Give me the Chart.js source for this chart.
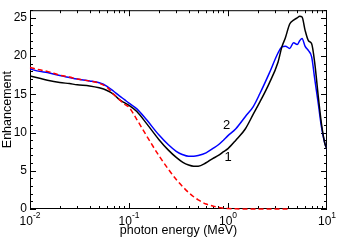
<!DOCTYPE html>
<html>
<head>
<meta charset="utf-8">
<script src="https://cdn.jsdelivr.net/npm/chart.js@4"></script>
<style>
  html, body { margin: 0; padding: 0; background: #fff; }
  canvas { display: block; }
</style>
</head>
<body>
<canvas id="chart" width="337" height="242"></canvas>
<script>
// photon energy grid (MeV)
const energy = [0.01, 0.0125, 0.015, 0.02, 0.025, 0.03, 0.04, 0.05, 0.06, 0.07, 0.08, 0.09,
  0.1, 0.12, 0.15, 0.2, 0.25, 0.3, 0.35, 0.4, 0.45, 0.5, 0.6, 0.7, 0.8, 0.9,
  1.0, 1.2, 1.5, 1.8, 2.1, 2.6, 3.2, 3.5, 3.8, 4.2, 4.6, 5.0, 5.3, 5.6, 6.0,
  6.5, 7.0, 7.5, 8.2, 8.8, 9.5, 10];

// curve 1 (black)
const curve1 = [17.4, 17.1, 16.85, 16.55, 16.4, 16.25, 16.1, 15.85, 15.5, 15.0, 14.3, 13.9,
  13.55, 12.75, 11.2, 9.1, 7.7, 6.75, 6.1, 5.75, 5.6, 5.6, 6.05, 6.6, 7.0, 7.5,
  7.9, 9.0, 10.5, 12.4, 14.0, 16.4, 19.2, 21.2, 22.4, 24.2, 24.7, 25.0, 25.2, 25.1, 23.4,
  22.0, 21.6, 19.2, 14.5, 11.1, 8.6, 7.8];

// curve 2 (blue)
const curve2 = [18.3, 18.0, 17.85, 17.45, 17.2, 17.0, 16.75, 16.5, 16.05, 15.4, 14.8, 14.3,
  13.85, 13.1, 11.7, 9.7, 8.4, 7.55, 7.1, 6.9, 6.9, 7.0, 7.35, 7.9, 8.4, 9.0,
  9.6, 10.5, 12.1, 13.4, 15.1, 17.7, 20.4, 21.2, 21.3, 21.0, 21.75, 21.5, 22.0, 22.3, 21.3,
  20.7, 19.9, 17.1, 13.6, 10.7, 8.6, 7.8];

// dashed red curve
const curveDashed = [18.5, 18.2, 18.0, 17.5, 17.25, 17.0, 16.75, 16.45, 15.9, 15.0, 14.3, 13.7,
  13.3, 11.7, 9.6, 7.0, 5.2, 3.85, 2.9, 2.15, 1.6, 1.2, 0.65, 0.4, 0.2, 0.1,
  0.05, 0.02, 0.01, 0.0, 0.0, 0.0, 0.0, 0.0, 0.0, 0.0, null, null, null, null, null,
  null, null, null, null, null, null, null];

const xTicks = [0.01, 0.1, 1, 10];
const xTickExp = ['-2', '-1', '0', '1'];
const yTicks = [0, 5, 10, 15, 20, 25];

// curve labels: [text, energy, enhancement]
const curveLabels = [['2', 0.97, 10.9], ['1', 1.0, 6.75]];

const FONT = "'Liberation Sans', Arial, Helvetica, sans-serif";
Chart.defaults.font.family = FONT;
Chart.defaults.color = '#000';

const toPoints = ys => energy.map((e, i) => ({ x: e, y: ys[i] }));

// frame + inward ticks under the curves, labels on top
const framePlugin = {
  id: 'frame',
  beforeDatasetsDraw(chart) {
    const { ctx, chartArea: a, scales: { x, y } } = chart;
    ctx.save();
    ctx.strokeStyle = '#000';
    ctx.lineWidth = 1;
    ctx.strokeRect(a.left + 0.5, a.top + 0.5, a.right - a.left - 1, a.bottom - a.top - 1);

    ctx.beginPath();
    // x ticks (bottom and top)
    for (let d = -2; d < 1; d++) {
      for (let m = 1; m <= 9; m++) {
        const v = m * Math.pow(10, d);
        const px = Math.round(x.getPixelForValue(v)) + 0.5;
        const len = m === 1 ? 6 : 3;
        ctx.moveTo(px, a.bottom); ctx.lineTo(px, a.bottom - len);
        ctx.moveTo(px, a.top); ctx.lineTo(px, a.top + len);
      }
    }
    // y ticks (left and right)
    for (let v = 0; v <= 26; v++) {
      const py = Math.round(y.getPixelForValue(v)) + 0.5;
      const len = v % 5 === 0 ? 6 : 3;
      ctx.moveTo(a.left, py); ctx.lineTo(a.left + len, py);
      ctx.moveTo(a.right, py); ctx.lineTo(a.right - len, py);
    }
    ctx.stroke();
    ctx.restore();
  },
  afterDraw(chart) {
    const { ctx, scales: { x, y } } = chart;
    ctx.save();
    // x tick labels 10^n
    ctx.fillStyle = '#000';
    ctx.textBaseline = 'alphabetic';
    ctx.textAlign = 'left';
    xTicks.forEach((v, i) => {
      const px = x.getPixelForValue(v);
      ctx.font = '12px ' + FONT;
      const wBase = ctx.measureText('10').width;
      ctx.font = '8.5px ' + FONT;
      const wExp = ctx.measureText(xTickExp[i]).width;
      const x0 = px - (wBase + wExp) / 2;
      ctx.font = '12px ' + FONT;
      ctx.fillText('10', x0, 225);
      ctx.font = '8.5px ' + FONT;
      ctx.fillText(xTickExp[i], x0 + wBase, 218);
    });

    // curve labels
    ctx.font = '13px ' + FONT;
    ctx.textAlign = 'center';
    ctx.textBaseline = 'middle';
    curveLabels.forEach(([t, e, v]) => {
      ctx.fillText(t, x.getPixelForValue(e), y.getPixelForValue(v));
    });
    ctx.restore();
  }
};

new Chart(document.getElementById('chart'), {
  type: 'line',
  data: {
    datasets: [
      {
        data: toPoints(curveDashed),
        borderColor: '#ff0000',
        borderWidth: 1.5,
        borderDash: [5, 3],
        pointRadius: 0,
        cubicInterpolationMode: 'monotone',
        spanGaps: false,
        clip: false
      },
      {
        data: toPoints(curve1),
        borderColor: '#000000',
        borderWidth: 1.5,
        pointRadius: 0,
        cubicInterpolationMode: 'monotone'
      },
      {
        data: toPoints(curve2),
        borderColor: '#0000ff',
        borderWidth: 1.5,
        pointRadius: 0,
        cubicInterpolationMode: 'monotone'
      }
    ]
  },
  options: {
    responsive: false,
    animation: false,
    layout: { padding: { top: 1, right: 10, left: 0, bottom: 0 } },
    plugins: {
      legend: { display: false },
      tooltip: { enabled: false }
    },
    scales: {
      x: {
        type: 'logarithmic',
        min: 0.01,
        max: 10,
        grid: { display: false, drawTicks: false },
        border: { display: false },
        ticks: { display: false },
        title: {
          display: true,
          text: 'photon energy (MeV)',
          font: { size: 12.5 },
          padding: { top: 0, bottom: 4 }
        },
        afterFit: s => { s.height = 33; }
      },
      y: {
        type: 'linear',
        min: 0,
        max: 26,
        grid: { display: false, drawTicks: false },
        border: { display: false },
        afterBuildTicks: s => { s.ticks = yTicks.map(v => ({ value: v })); },
        ticks: { font: { size: 12 }, padding: 3 },
        title: {
          display: true,
          text: 'Enhancement',
          font: { size: 12.5 },
          padding: { top: 0, bottom: 0 }
        },
        afterFit: s => { s.width = 30; }
      }
    }
  },
  plugins: [framePlugin]
});
</script>
</body>
</html>
